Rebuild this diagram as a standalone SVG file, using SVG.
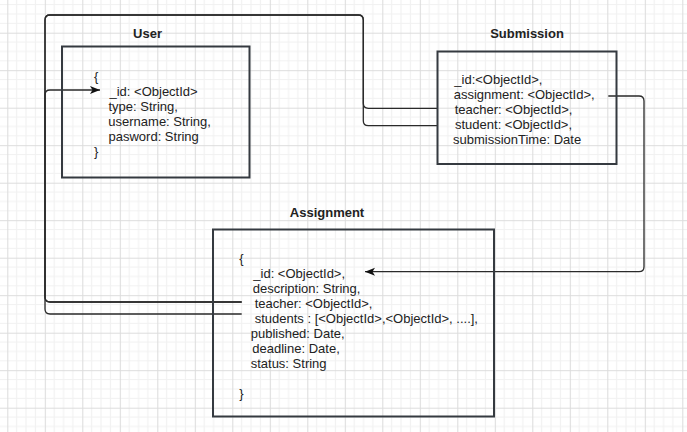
<svg xmlns="http://www.w3.org/2000/svg" width="687" height="432" viewBox="0 0 687 432">
  <style>
    .box { fill: none; stroke: #353a40; stroke-width: 2; }
    .title { font-family: "Liberation Sans", Arial, sans-serif; font-size: 13px; font-weight: bold; fill: #222; text-anchor: middle; }
    .txt { font-family: "Liberation Sans", Arial, sans-serif; font-size: 13px; fill: #222; }
    .conn { fill: none; stroke: #2a2a2a; stroke-width: 1.3; stroke-linejoin: round; }
  </style>
  <defs>
    <pattern id="grid" patternUnits="userSpaceOnUse" x="7.3" y="-4.8" width="37.5" height="37.5">
      <rect width="37.5" height="37.5" fill="#ffffff"/>
      <path d="M9.375 0V37.5M18.75 0V37.5M28.125 0V37.5M0 9.375H37.5M0 18.75H37.5M0 28.125H37.5" stroke="#f1f1f1" stroke-width="1" fill="none"/>
      <path d="M0.5 0V37.5M0 0.5H37.5" stroke="#dcdcdc" stroke-width="1" fill="none"/>
    </pattern>
    <marker id="arrow" markerUnits="userSpaceOnUse" markerWidth="10" markerHeight="10" viewBox="0 0 10 10" refX="10" refY="5" orient="auto">
      <path d="M0,1 L10,5 L0,9 L2.5,5 z" fill="#111"/>
    </marker>
  </defs>
  <rect width="687" height="432" fill="url(#grid)"/>

  <g id="connectors">
    <path class="conn" d="M241.7,302 H50 Q45,302 45,297 V20 Q45,15 50,15 H358.3 Q363.3,15 363.3,20 V103.3 Q363.3,108.3 368.3,108.3 H437.5"/>
    <path class="conn" d="M241.7,314 H50 Q45,314 45,309 V20 Q45,15 50,15 H358.3 Q363.3,15 363.3,20 V120.7 Q363.3,125.7 368.3,125.7 H437.5"/>
    <path class="conn" d="M241.7,302 H50 Q45,302 45,297 V95 Q45,90 50,90 H100" marker-end="url(#arrow)"/>
    <path class="conn" d="M608.3,96 H639 Q644,96 644,101 V266.7 Q644,271.7 639,271.7 H365" marker-end="url(#arrow)"/>
  </g>

  <g id="user">
    <text class="title" x="147.5" y="38.3">User</text>
    <rect class="box" x="62" y="46.5" width="187.5" height="131"/>
    <text class="txt" x="94" y="80.5">{</text>
    <text class="txt" x="109.5" y="95.5">_id: &lt;ObjectId&gt;</text>
    <text class="txt" x="108.5" y="110.5">type: String,</text>
    <text class="txt" x="108.3" y="125.5">username: String,</text>
    <text class="txt" x="108.5" y="140.5">pasword: String</text>
    <text class="txt" x="94" y="155.5">}</text>
  </g>

  <g id="submission">
    <text class="title" x="527" y="38.3">Submission</text>
    <rect class="box" x="437.5" y="51.5" width="179" height="112.5"/>
    <text class="txt" x="454.3" y="83.5">_id:&lt;ObjectId&gt;,</text>
    <text class="txt" x="453.7" y="98.5">assignment: &lt;ObjectId&gt;,</text>
    <text class="txt" x="454.7" y="113.5">teacher: &lt;ObjectId&gt;,</text>
    <text class="txt" x="455" y="128.5">student: &lt;ObjectId&gt;,</text>
    <text class="txt" x="453" y="143.5">submissionTime: Date</text>
  </g>

  <g id="assignment">
    <text class="title" x="327" y="216.7">Assignment</text>
    <rect class="box" x="213" y="229.5" width="281" height="187"/>
    <text class="txt" x="239.3" y="262.5">{</text>
    <text class="txt" x="253.3" y="277.5">_id: &lt;ObjectId&gt;,</text>
    <text class="txt" x="252.7" y="292.5">description: String,</text>
    <text class="txt" x="254.7" y="307.5">teacher: &lt;ObjectId&gt;,</text>
    <text class="txt" x="254.7" y="322.5">students : [&lt;ObjectId&gt;,&lt;ObjectId&gt;, ....],</text>
    <text class="txt" x="250.7" y="337.5">published: Date,</text>
    <text class="txt" x="252.3" y="352.5">deadline: Date,</text>
    <text class="txt" x="250.7" y="367.5">status: String</text>
    <text class="txt" x="239.3" y="397.5">}</text>
  </g>
</svg>
